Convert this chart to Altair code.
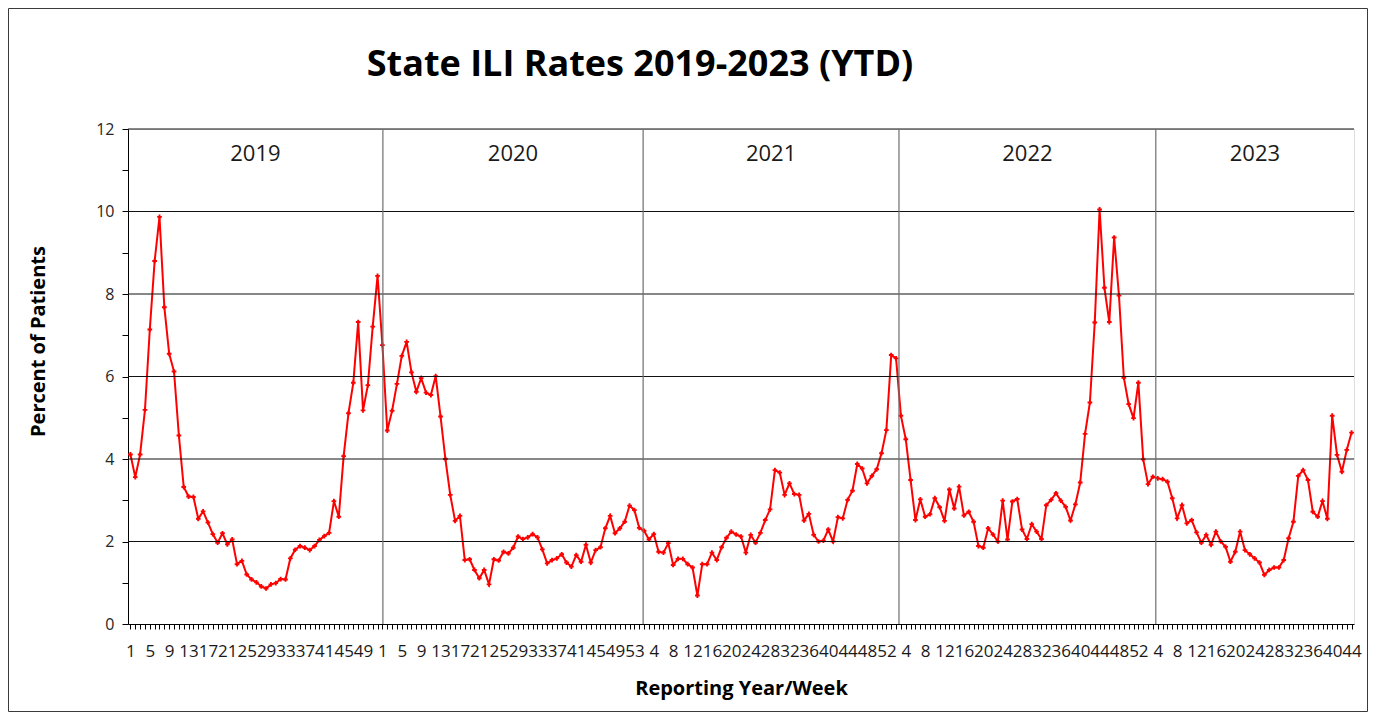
import json
import altair as alt
import pandas as pd

# ---- data (percent of patients with ILI, by week) ----
years = ["2019", "2020", "2021", "2022", "2023"]

ili_2019 = [4.11, 3.56, 4.11, 5.19, 7.14, 8.80, 9.87, 7.68, 6.55, 6.12,
            4.57, 3.32, 3.09, 3.08, 2.55, 2.73, 2.46, 2.18, 1.97, 2.20,
            1.93, 2.05, 1.45, 1.53, 1.20, 1.08, 1.01, 0.91, 0.86, 0.96,
            0.99, 1.09, 1.08, 1.59, 1.80, 1.89, 1.85, 1.79, 1.89, 2.04,
            2.13, 2.21, 2.98, 2.60, 4.07, 5.11, 5.85, 7.32, 5.18, 5.79,
            7.21, 8.44]
ili_2020 = [6.76, 4.69, 5.17, 5.82, 6.50, 6.84, 6.10, 5.63, 5.96, 5.61,
            5.55, 6.01, 5.03, 4.00, 3.13, 2.50, 2.62, 1.55, 1.57, 1.31,
            1.11, 1.31, 0.96, 1.57, 1.54, 1.75, 1.71, 1.85, 2.12, 2.06,
            2.10, 2.18, 2.10, 1.81, 1.47, 1.55, 1.59, 1.69, 1.49, 1.39,
            1.67, 1.51, 1.92, 1.49, 1.79, 1.86, 2.32, 2.62, 2.20, 2.32,
            2.48, 2.87, 2.76]
ili_2021 = [2.33, 2.26, 2.05, 2.18, 1.75, 1.73, 1.96, 1.43, 1.58, 1.58,
            1.45, 1.37, 0.69, 1.45, 1.45, 1.73, 1.55, 1.86, 2.09, 2.24,
            2.17, 2.12, 1.73, 2.16, 1.97, 2.21, 2.52, 2.78, 3.73, 3.67,
            3.13, 3.41, 3.15, 3.13, 2.51, 2.67, 2.16, 2.00, 2.02, 2.29,
            2.00, 2.59, 2.56, 3.01, 3.23, 3.88, 3.77, 3.41, 3.59, 3.75,
            4.14, 4.70]
ili_2022 = [6.52, 6.44, 5.05, 4.48, 3.49, 2.52, 3.02, 2.60, 2.66, 3.05,
            2.83, 2.50, 3.26, 2.80, 3.33, 2.63, 2.72, 2.48, 1.89, 1.85,
            2.32, 2.17, 2.00, 2.99, 2.05, 2.97, 3.03, 2.29, 2.06, 2.42,
            2.24, 2.06, 2.88, 3.01, 3.17, 2.99, 2.84, 2.51, 2.90, 3.43,
            4.61, 5.37, 7.31, 10.05, 8.15, 7.32, 9.37, 7.96, 5.97, 5.33,
            4.99, 5.85]
ili_2023 = [3.99, 3.39, 3.57, 3.53, 3.51, 3.45, 3.05, 2.56, 2.88, 2.44,
            2.52, 2.22, 1.97, 2.16, 1.92, 2.24, 2.00, 1.87, 1.51, 1.75,
            2.24, 1.79, 1.69, 1.59, 1.49, 1.19, 1.31, 1.37, 1.37, 1.55,
            2.08, 2.48, 3.59, 3.73, 3.49, 2.72, 2.60, 2.98, 2.55, 5.05,
            4.10, 3.69, 4.22, 4.64]

chart_title = "State ILI Rates 2019-2023 (YTD)"
x_title = "Reporting Year/Week"
y_title = "Percent of Patients"

# year separator lines, as positions on the week-sequence axis
year_dividers = [52.1, 105.8, 158.6, 211.6]
y_ticks = list(range(0, 13))
grid_values = [2, 4, 6, 8, 10, 12]

# ---- tables ----
rows = []
i = 0
for yr, vals in zip(years, [ili_2019, ili_2020, ili_2021, ili_2022, ili_2023]):
    for w, v in enumerate(vals, start=1):
        rows.append({"idx": i, "year": yr, "week": w, "ili": v})
        i += 1
df = pd.DataFrame(rows)
n = len(df)

week_labels = [str(w) for w in df["week"]]
label_expr = "datum.value % 4 == 0 ? " + json.dumps(week_labels) + "[datum.value] : ''"

bounds = [-0.5] + year_dividers + [n - 0.5]
year_df = pd.DataFrame({
    "year": years,
    "mid": [(bounds[k] + bounds[k + 1]) / 2 for k in range(len(years))],
})
div_df = pd.DataFrame({"pos": year_dividers})
grid_df = pd.DataFrame({"g": grid_values})

W, H = 1226, 495
FONT = "Open Sans"
xscale = alt.Scale(domain=[-0.5, n - 0.5], nice=False, zero=False)
yscale = alt.Scale(domain=[0, 12], nice=False, zero=True)

x_axis = alt.Axis(values=list(range(n)), labelExpr=label_expr,
                  title=x_title, labelOverlap=False,
                  labelFlush=False, labelBound=False, grid=False,
                  tickSize=5, tickColor="#000", domainColor="#000",
                  labelPadding=14, labelFontSize=17, labelFont=FONT,
                  labelColor="#1a1a1a", titleFont=FONT, titleFontSize=20,
                  titleFontWeight="bold", titleColor="#000", titlePadding=19)
y_axis = alt.Axis(values=y_ticks,
                  labelExpr="datum.value % 2 == 0 ? datum.label : ''",
                  title=y_title, grid=False, tickSize=6,
                  tickColor="#000", domainColor="#000", labelPadding=8,
                  labelFontSize=16, labelFont=FONT, labelColor="#262626",
                  titleFont=FONT, titleFontSize=20, titleFontWeight="bold",
                  titleColor="#000", titleAngle=270, titleAlign="center",
                  titleBaseline="middle", titleX=-90, titleY=212)

grid = alt.Chart(grid_df).mark_rule(color="#111111", strokeWidth=1).encode(
    y=alt.Y("g:Q", scale=yscale, axis=y_axis)
)

dividers = alt.Chart(div_df).mark_rule(color="#6e6e6e", strokeWidth=1.2).encode(
    x=alt.X("pos:Q", scale=xscale, axis=x_axis)
)

year_text = alt.Chart(year_df).mark_text(
    font=FONT, fontSize=22, color="#1a1a1a", baseline="middle", align="center"
).encode(
    x=alt.X("mid:Q", scale=xscale, axis=x_axis),
    y=alt.value(25),
    text="year:N",
)

line = alt.Chart(df).mark_line(
    color="#FF0000", strokeWidth=2,
    point=alt.OverlayMarkDef(shape="cross", size=22, color="#FF0000", filled=True),
).encode(
    x=alt.X("idx:Q", scale=xscale, axis=x_axis),
    y=alt.Y("ili:Q", scale=yscale, axis=y_axis),
    tooltip=["year:N", "week:Q", "ili:Q"],
)

title_text = alt.Chart(pd.DataFrame({"t": [chart_title]})).mark_text(
    font=FONT, fontSize=36, fontWeight="bold", color="#000",
    align="center", baseline="alphabetic",
).encode(x=alt.value(512), y=alt.value(-53), text="t:N")

frame = alt.Chart(pd.DataFrame({"a": [0]})).mark_rect(
    fill="transparent", stroke="#3a3a3a", strokeWidth=1
).encode(
    x=alt.value(-119.5), x2=alt.value(W + 13.5),
    y=alt.value(-120.5), y2=alt.value(H + 87.5),
)

chart = alt.layer(line, grid, dividers, year_text, title_text, frame).properties(
    width=W, height=H,
    autosize=alt.AutoSizeParams(type="none"),
    padding={"left": 120, "top": 121, "right": 14, "bottom": 88},
).configure_view(stroke="#8a8a8a", strokeWidth=1.5).configure(background="white")

chart.save("out.html", embed_options={"renderer": "svg", "actions": False})
